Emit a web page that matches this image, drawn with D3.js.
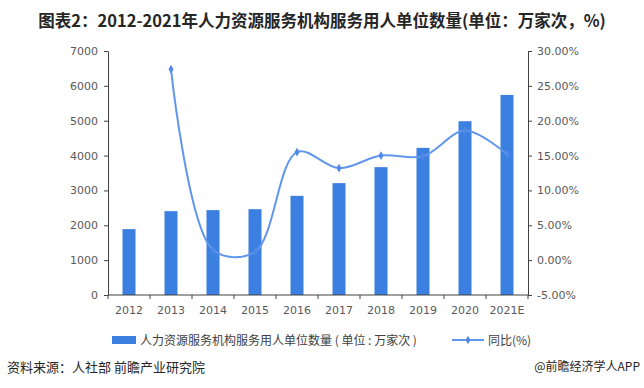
<!DOCTYPE html>
<html>
<head>
<meta charset="utf-8">
<script src="https://cdn.jsdelivr.net/npm/d3@7"></script>
<style>
  body { margin: 0; background: #fff; }
  svg { font-family: "Noto Sans CJK SC", "Microsoft YaHei", sans-serif; }
  .axis text { fill: #595959; font-size: 11px; font-family: "DejaVu Sans", sans-serif; }
  .axis path, .axis line { stroke: #404040; }
</style>
</head>
<body>
<script>
// data
var years = ["2012", "2013", "2014", "2015", "2016", "2017", "2018", "2019", "2020", "2021E"];
var units = [1890, 2405, 2435, 2462, 2845, 3209, 3668, 4221, 4985, 5740]; // 万家次
var yoy = [null, 27.4, 1.5, 1.2, 15.5, 13.2, 15.0, 14.9, 18.6, 15.2]; // %
var leftTicks = [0, 1000, 2000, 3000, 4000, 5000, 6000, 7000];
var rightTicks = [-5, 0, 5, 10, 15, 20, 25, 30];

var width = 644, height = 388;
var pLeft = 108, pRight = 528, pTop = 51, pBottom = 295;

var svg = d3.select("body").append("svg")
    .attr("width", width)
    .attr("height", height);

svg.append("text")
    .attr("x", 322).attr("y", 27)
    .attr("text-anchor", "middle")
    .style("font-size", "16.5px")
    .style("font-weight", "bold")
    .style("fill", "#262626")
    .text("图表2：2012-2021年人力资源服务机构服务用人单位数量(单位：万家次，%)");

var xc = d3.scalePoint().domain(years).range([pLeft + 21, pRight - 21]);
var y = d3.scaleLinear().domain([0, 7000]).range([pBottom, pTop]);
var y2 = d3.scaleLinear().domain([-5, 30]).range([pBottom, pTop]);

// bars
svg.selectAll(".bar")
    .data(units)
    .enter().append("rect")
    .attr("class", "bar")
    .attr("x", function (d, i) { return xc(years[i]) - 6.5; })
    .attr("width", 13)
    .attr("y", function (d) { return y(d); })
    .attr("height", function (d) { return pBottom - y(d); })
    .style("fill", "#3b7fe0");

// axes
svg.append("g")
    .attr("class", "axis")
    .attr("transform", "translate(" + pLeft + ",0)")
    .call(d3.axisLeft(y).tickValues(leftTicks).tickSize(4).tickSizeOuter(0).tickPadding(6)
        .tickFormat(d3.format("d")));

svg.append("g")
    .attr("class", "axis")
    .attr("transform", "translate(" + pRight + ",0)")
    .call(d3.axisRight(y2).tickValues(rightTicks).tickSize(4).tickSizeOuter(0).tickPadding(5)
        .tickFormat(function (d) { return d.toFixed(2) + "%"; }));

var xAxis = svg.append("g")
    .attr("class", "axis")
    .attr("transform", "translate(0," + pBottom + ")");
xAxis.append("line")
    .attr("x1", pLeft).attr("x2", pRight)
    .attr("stroke", "#404040");
xAxis.selectAll(".tk")
    .data(d3.range(years.length + 1))
    .enter().append("line")
    .attr("x1", function (i) { return pLeft + i * 42; })
    .attr("x2", function (i) { return pLeft + i * 42; })
    .attr("y1", 0).attr("y2", 4)
    .attr("stroke", "#404040");
xAxis.selectAll(".lbl")
    .data(years)
    .enter().append("text")
    .attr("x", function (d) { return xc(d); })
    .attr("y", 19)
    .attr("text-anchor", "middle")
    .text(function (d) { return d; });

// yoy line (smoothed)
var pts = years.map(function (d, i) { return { x: xc(d), v: yoy[i] }; })
    .filter(function (p) { return p.v !== null; });

var line = d3.line()
    .x(function (p) { return p.x; })
    .y(function (p) { return y2(p.v); })
    .curve(d3.curveCatmullRom.alpha(0.5));

svg.append("path")
    .datum(pts)
    .attr("d", line)
    .attr("fill", "none")
    .attr("stroke", "#6197ea")
    .attr("stroke-width", 2);

svg.selectAll(".mk")
    .data(pts)
    .enter().append("path")
    .attr("transform", function (p) { return "translate(" + p.x + "," + y2(p.v) + ")"; })
    .attr("d", d3.symbol().type(d3.symbolDiamond).size(22))
    .style("fill", "#4f88e6");

// legend
var lg = svg.append("g").style("font-size", "12px").style("fill", "#404040");
lg.append("rect").attr("x", 112).attr("y", 336).attr("width", 24).attr("height", 8).style("fill", "#3b7fe0");
lg.append("text").attr("x", 140).attr("y", 344.5).text("人力资源服务机构服务用人单位数量 ( 单位 : 万家次 )");
lg.append("line").attr("x1", 452).attr("x2", 484).attr("y1", 340).attr("y2", 340)
    .attr("stroke", "#6197ea").attr("stroke-width", 2);
lg.append("path").attr("transform", "translate(468,340)")
    .attr("d", d3.symbol().type(d3.symbolDiamond).size(22)).style("fill", "#4f88e6");
lg.append("text").attr("x", 488).attr("y", 344.5).text("同比(%)");

// footer
svg.append("text")
    .attr("x", 7).attr("y", 372)
    .style("font-size", "13px").style("fill", "#262626")
    .text("资料来源：人社部 前瞻产业研究院");
svg.append("text")
    .attr("x", 640).attr("y", 371)
    .attr("text-anchor", "end")
    .style("font-size", "12px").style("fill", "#262626")
    .text("@前瞻经济学人APP");
</script>
</body>
</html>
